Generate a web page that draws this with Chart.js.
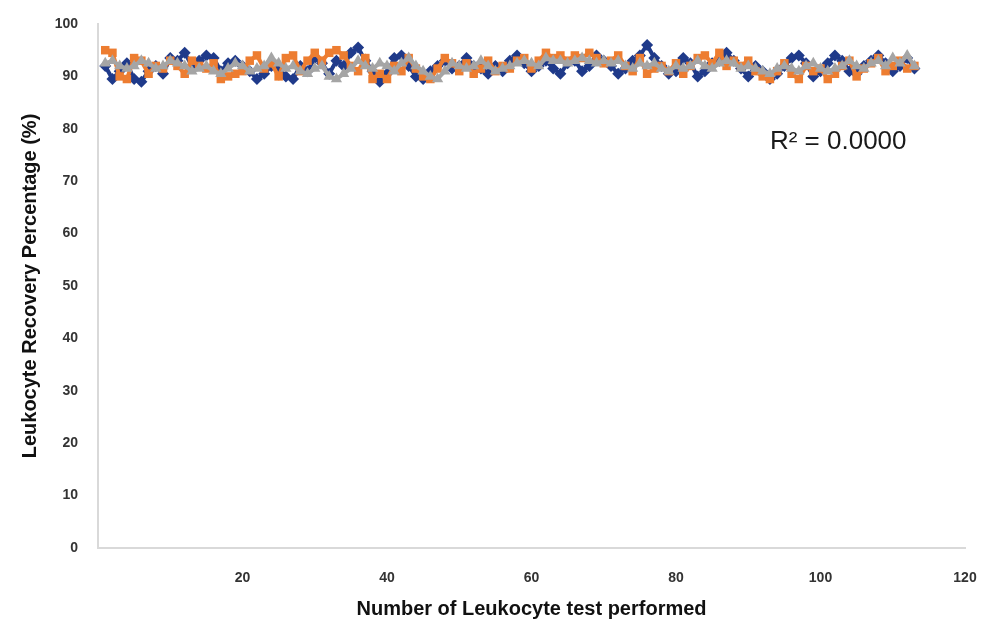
<!DOCTYPE html>
<html>
<head>
<meta charset="utf-8">
<script src="https://cdn.jsdelivr.net/npm/chart.js@4.4.1/dist/chart.umd.min.js"></script>
<style>
  html, body { margin: 0; padding: 0; background: #fff; }
  #wrap { width: 985px; height: 628px; position: relative; }
</style>
</head>
<body>
<div id="wrap"><canvas id="c"></canvas></div>
<script>
const xTicks = [0, 20, 40, 60, 80, 100, 120];
const yTicks = [0, 10, 20, 30, 40, 50, 60, 70, 80, 90, 100];

const grayValues = [
  92.5, 93, 92, 91.5, 92, 93, 92.5, 91.5, 92, 93,
  92.5, 92, 91, 91.5, 92, 91, 90.5, 91.5, 92.5, 92,
  91, 91.5, 92, 93.5, 92.5, 91.5, 92, 91, 90.5, 91.5,
  92, 90, 89.5, 90.5, 91.5, 93, 92, 91.5, 92.5, 92,
  91, 92.5, 93.5, 92, 91, 90, 89.5, 91, 92.5, 92,
  91.5, 92, 93, 92, 91, 91.5, 92, 92.5, 93, 92.5,
  92, 93.5, 93, 93, 92.5, 93, 93.5, 93, 92.5, 93,
  92.5, 93, 92, 91.5, 92.5, 92, 92.5, 91.5, 91, 92,
  91.5, 92, 93, 92, 91.5, 92.5, 93, 92.5, 91.5, 92,
  91.5, 91, 90.5, 91.5, 92, 91.5, 91, 92, 92.5, 91.5,
  91, 91.5, 92, 93, 92, 91.5, 92.5, 93, 92, 93.5,
  92.5, 94, 92
];
const orangeValues = [
  95, 94.5, 90, 89.5, 93.5, 93, 90.5, 92, 91.5, 93,
  92, 90.5, 93, 92, 91.5, 92.5, 89.5, 90, 90.5, 91,
  93, 94, 91.5, 92.5, 90, 93.5, 94, 91, 93, 94.5,
  93, 94.5, 95, 94, 92, 91, 93.5, 89.5, 90.5, 89.5,
  92, 91, 93.5, 91.5, 90, 89.5, 91.5, 93.5, 92.5, 91,
  92.5, 90.5, 91.5, 93, 91, 92, 91.5, 93, 93.5, 91.5,
  93, 94.5, 93.5, 94, 93, 94, 93.5, 94.5, 93.5, 92.5,
  93, 94, 92, 91, 93.5, 90.5, 91.5, 92, 91, 92.5,
  90.5, 92, 93.5, 94, 92.5, 94.5, 92, 93, 92, 93,
  91, 90, 89.5, 91, 92.5, 90.5, 89.5, 92, 91, 91.5,
  89.5, 90.5, 92, 93, 90, 91.5, 92.5, 93.5, 91, 92,
  93, 91.5, 92
];
const blueValues = [
  92, 89.5, 91, 92.5, 89.5, 89, 91, 92, 90.5, 93.5,
  93, 94.5, 92, 93, 94, 93.5, 91, 92.5, 93, 92,
  91, 89.5, 90.5, 92, 91.5, 90, 89.5, 92, 91, 93.5,
  92.5, 90.5, 93, 92, 94.5, 95.5, 93, 91, 89, 90.5,
  93.5, 94, 92, 90, 89.5, 91, 92, 93, 91.5, 92,
  93.5, 92, 91.5, 90.5, 92, 91, 93, 94, 92.5, 91,
  92, 93, 91.5, 90.5, 92.5, 93, 91, 92, 94, 93,
  92, 90.5, 91.5, 93, 94, 96, 93.5, 92, 90.5, 91,
  93.5, 92.5, 90, 91, 92.5, 93, 94.5, 93, 91.5, 90,
  92, 91, 89.5, 90.5, 92, 93.5, 94, 92.5, 90, 91,
  92.5, 94, 93, 91, 90.5, 92, 93, 94, 92.5, 91,
  92, 93.5, 91.5
];
const testNumbers = blueValues.map((_, i) => i + 1);
const r2Label = 'R\u00B2 = 0.0000';
const xTitle = 'Number of Leukocyte test performed';
const yTitle = 'Leukocyte Recovery Percentage (%)';

const toPts = vals => vals.map((v, i) => ({ x: testNumbers[i], y: v }));

const r2Plugin = {
  id: 'r2',
  afterDatasetsDraw(chart) {
    const { ctx, scales } = chart;
    const px = scales.x.getPixelForValue(93.0);
    const py = scales.y.getPixelForValue(77.5);
    ctx.save();
    ctx.font = '26px "Liberation Sans", Arial, sans-serif';
    ctx.fillStyle = '#1a1a1a';
    ctx.textBaseline = 'middle';
    ctx.textAlign = 'left';
    ctx.fillText(r2Label, px, py);
    ctx.restore();
  }
};

const fam = '"Liberation Sans", Arial, sans-serif';
const tickFont = { family: fam, size: 14, weight: 'bold' };

new Chart(document.getElementById('c'), {
  type: 'scatter',
  data: {
    datasets: [
      {
        label: 'Series 3',
        data: toPts(grayValues),
        showLine: true,
        borderColor: '#a5a5a5',
        backgroundColor: '#a5a5a5',
        borderWidth: 4,
        pointStyle: 'triangle',
        pointRadius: 6.5,
        pointBorderWidth: 0,
        order: 1
      },
      {
        label: 'Series 2',
        data: toPts(orangeValues),
        showLine: true,
        borderColor: '#ed7d31',
        backgroundColor: '#ed7d31',
        borderWidth: 4,
        pointStyle: 'rect',
        pointRadius: 6,
        pointBorderWidth: 0,
        order: 2
      },
      {
        label: 'Series 1',
        data: toPts(blueValues),
        showLine: true,
        borderColor: '#1f3a8a',
        backgroundColor: '#1f3a8a',
        borderWidth: 4,
        pointStyle: 'rectRot',
        pointRadius: 6,
        pointBorderWidth: 0,
        order: 3
      }
    ]
  },
  options: {
    responsive: true,
    maintainAspectRatio: false,
    animation: false,
    layout: { padding: { top: 24, right: 20, left: 0, bottom: 7 } },
    plugins: { legend: { display: false }, tooltip: { enabled: false } },
    scales: {
      x: {
        type: 'linear',
        min: xTicks[0],
        max: xTicks[xTicks.length - 1],
        afterBuildTicks: s => { s.ticks = xTicks.map(v => ({ value: v })); },
        afterFit: s => { s.height = 73; s.paddingLeft = 0; s.paddingRight = 0; },
        grid: { display: false },
        border: { display: true, color: '#d9d9d9', width: 2 },
        ticks: {
          padding: 14,
          color: '#333',
          font: tickFont,
          maxRotation: 0,
          callback: v => (v === 0 ? '' : String(v))
        },
        title: {
          display: true,
          text: xTitle,
          color: '#111',
          font: { family: fam, size: 20, weight: 'bold' },
          padding: { top: 8, bottom: 0 }
        }
      },
      y: {
        type: 'linear',
        min: yTicks[0],
        max: yTicks[yTicks.length - 1],
        afterBuildTicks: s => { s.ticks = yTicks.map(v => ({ value: v })); },
        afterFit: s => { s.width = 98; s.paddingTop = 0; s.paddingBottom = 0; },
        grid: { display: false },
        border: { display: true, color: '#d9d9d9', width: 2 },
        ticks: {
          padding: 12,
          color: '#333',
          font: tickFont,
          callback: v => String(v)
        },
        title: {
          display: true,
          text: yTitle,
          color: '#111',
          font: { family: fam, size: 20, weight: 'bold' },
          padding: { top: 18, bottom: 0 }
        }
      }
    }
  },
  plugins: [r2Plugin]
});
</script>
</body>
</html>
